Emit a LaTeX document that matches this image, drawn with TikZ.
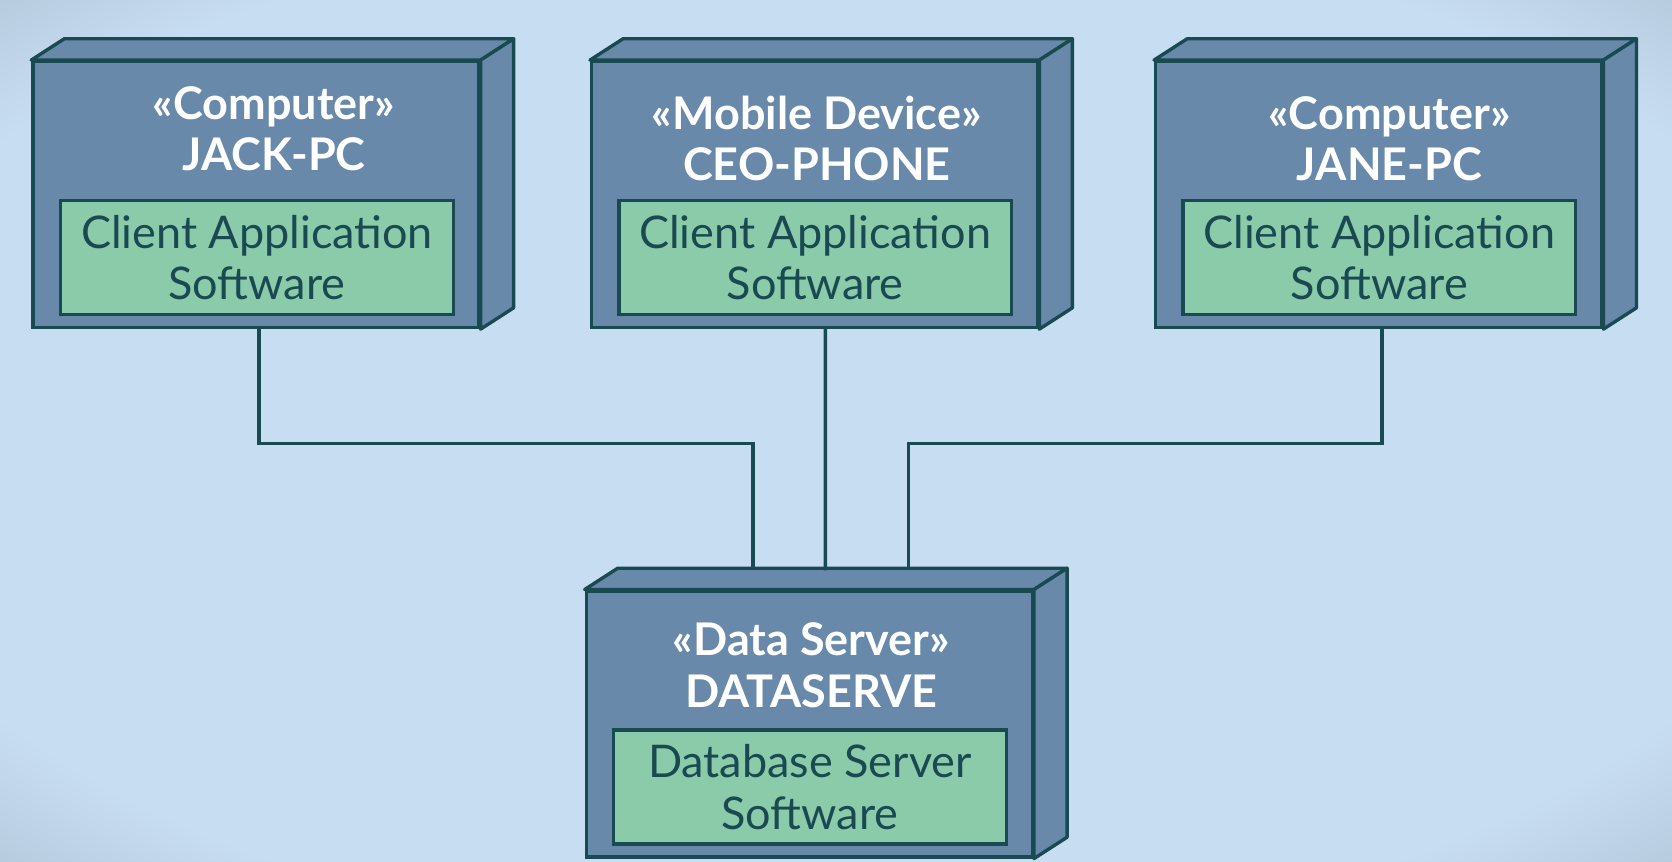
\documentclass[tikz,border=0pt]{standalone}
\usepackage{fontspec}
\setmainfont{Lato}
\usepackage{xcolor}
\usetikzlibrary{positioning}

\definecolor{bakgrunn}{HTML}{C7DDF1}
\definecolor{hjorne}{HTML}{AFC3D6}
\definecolor{boks}{HTML}{6889A9}
\definecolor{kant}{HTML}{194A52}
\definecolor{gronn}{HTML}{8BCBA9}
\pgfdeclareradialshading{fond}{\pgfpoint{0bp}{0bp}}{color(0bp)=(bakgrunn); color(30bp)=(bakgrunn); color(38bp)=(hjorne); color(50bp)=(hjorne)}

\begin{document}
\begin{tikzpicture}[x=0.01cm, y=-0.01cm,
	enhet/.style={draw=kant, fill=boks, line width=0.9pt, minimum width=4.18cm, minimum height=2.49cm},
	flate/.style={draw=kant, fill=boks, line width=0.9pt, line join=round},
	programvare/.style={draw=kant, fill=gronn, line width=0.9pt, minimum width=3.68cm, minimum height=1.07cm, inner sep=0pt, align=center, text=kant, font=\fontsize{12}{13.7}\selectfont},
	tittel/.style={align=center, text=white, font=\bfseries\fontsize{12}{13.7}\selectfont},
	linje/.style={draw=kant, line width=0.9pt}]
	%Bakgrunnen
	\useasboundingbox (0,0) rectangle (1568,808);
	\shade[shading=fond] (0,0) rectangle (1568,808);

	%Enhetene går her
	\node[enhet] (jack) at (240,182.5) {};
	\node[enhet] (ceo) at (764,182.5) {};
	\node[enhet] (jane) at (1293,182.5) {};
	\node[enhet] (server) at (759,679) {};

	%Topp og side
	\foreach \n in {jack,ceo,jane,server} {
		\draw[flate] (\n.north west) -- ++(31,-20) -- ([shift={(31,-20)}]\n.north east) -- (\n.north east) -- cycle;
		\draw[flate] (\n.north east) -- ++(31,-20) -- ([shift={(31,-20)}]\n.south east) -- (\n.south east) -- cycle;
	}

	%Tekstene
	\node[tittel] (jacknavn) at (257,121) {«Computer»\\JACK-PC};
	\node[tittel] (ceonavn) at (766,130) {«Mobile Device»\\CEO-PHONE};
	\node[tittel] (janenavn) at (1303,130) {«Computer»\\JANE-PC};
	\node[tittel] (servernavn) at (761,624) {«Data Server»\\DATASERVE};

	\node[programvare] (jackprog) at (241,241.5) {Client Application\\Software};
	\node[programvare] (ceoprog) at (764.5,241.5) {Client Application\\Software};
	\node[programvare] (janeprog) at (1293.5,241.5) {Client Application\\Software};
	\node[programvare] (serverprog) at (759.5,738) {Database Server\\Software};

	%Kantene defineres her
	\coordinate (inn1) at (706,535);
	\coordinate (inn2) at (774,535);
	\coordinate (inn3) at (852,535);
	\draw[linje] ([xshift=0.03cm]jack.south) -- ++(0,107) -| (inn1);
	\draw[linje] ([xshift=0.1cm]ceo.south) -- (inn2);
	\draw[linje] ([xshift=0.03cm]jane.south) -- ++(0,107) -| (inn3);
\end{tikzpicture}
\end{document}
